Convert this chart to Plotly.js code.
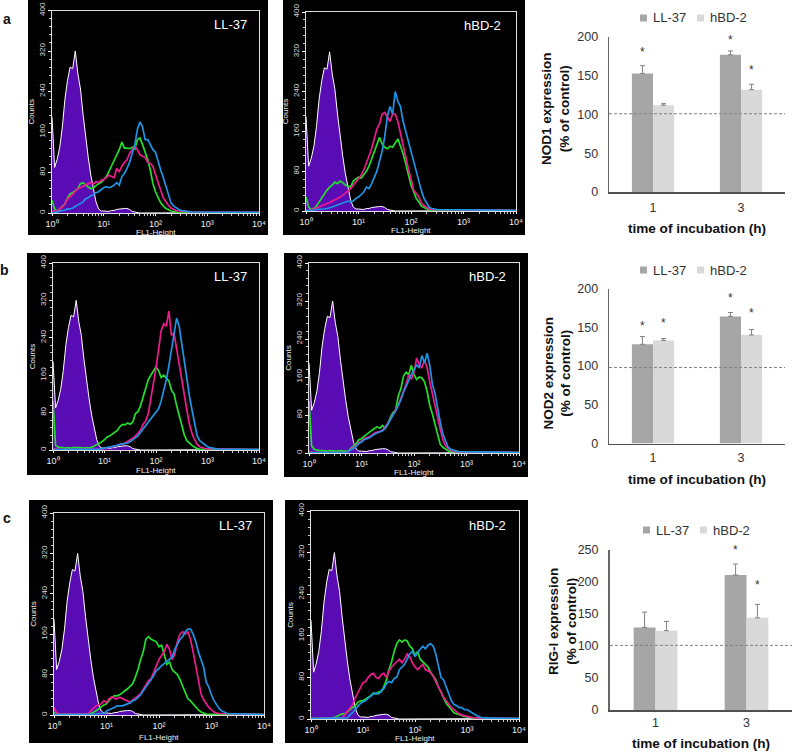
<!DOCTYPE html>
<html><head><meta charset="utf-8">
<script src="https://cdn.plot.ly/plotly-3.0.1.min.js"></script>
<style>html,body{margin:0;padding:0;background:#fff}#chart{width:792px;height:752px}</style>
</head><body><div id="chart"></div>
<script>
// log10(FL1-Height) channels shared by all histograms
const logFL1 = [0,.05,.1,.15,.2,.25,.3,.35,.4,.45,.5,.55,.6,.65,.7,.75,.8,.85,.9,.95,
 1,1.05,1.1,1.15,1.2,1.25,1.3,1.35,1.4,1.45,1.5,1.55,1.6,1.65,1.7,1.75,1.8,1.85,1.9,1.95,
 2,2.05,2.1,2.15,2.2,2.25,2.3,2.35,2.4,2.45,2.5,2.55,2.6,2.65,2.7,2.75,2.8,2.85,2.9,2.95,
 3,3.05,3.1,3.15,3.2,3.25,3.3];

const control = [190,90,106,130,170,225,262,288,285,320,275,245,195,150,110,75,45,22,8,4,
 4,3,3,5,5,7,8,8,9,9,7,3,2,1,0];

const a1Green = [25,8,3,8,12,18,30,38,40,45,48,58,60,55,52,48,50,55,58,60,
 65,72,82,92,103,115,125,140,128,128,127,130,126,145,148,135,122,105,85,58,
 42,30,20,14,9,7,4,3,2,1];
const a1Pink = [3,4,5,8,12,18,28,32,38,42,48,50,53,55,58,60,57,62,60,65,
 66,70,75,72,70,88,82,92,100,105,118,125,133,125,115,112,110,100,98,92,
 75,60,45,30,22,15,10,7,5,4,3,3,3,2,2];
const a1Blue = [0,1,2,3,4,6,8,8,10,13,15,18,22,28,30,34,36,40,42,46,
 50,52,50,52,55,60,55,72,78,88,100,118,135,165,180,170,145,145,135,125,
 120,100,85,70,52,35,20,14,10,7,5,4,3,3,2];

const a2Green = [28,8,3,5,10,18,25,35,42,48,52,58,55,60,57,52,50,48,60,65,
 68,66,72,80,90,105,120,135,148,135,128,125,130,128,138,145,130,115,95,75,
 52,40,25,18,10,7,4,2];
const a2Pink = [0,1,2,4,6,8,10,13,15,17,20,22,25,28,32,35,40,45,52,60,
 65,72,82,95,110,125,145,165,175,195,198,190,180,195,195,180,155,130,110,85,
 65,42,35,28,15,10,7,4,3];
const a2Blue = [1,1,1,2,3,3,3,4,5,6,8,10,12,14,15,18,20,18,20,25,
 28,33,38,48,45,55,68,80,100,120,150,190,210,195,240,220,210,180,160,140,
 115,95,75,58,40,25,15,7,5,4,3];

const b1Green = [105,10,6,5,5,4,5,4,5,5,6,5,4,5,4,6,8,12,14,18,
 22,28,30,34,38,42,50,55,54,58,55,60,78,82,95,115,135,150,160,168,
 178,170,155,160,155,148,128,120,95,75,55,32,20,14,10,6,3,2];
const b1Pink = [3,2,1,1,1,1,1,1,1,1,1,1,1,1,1,1,1,2,2,2,
 3,4,5,7,8,10,12,12,15,18,22,25,30,35,42,55,62,78,110,140,
 175,215,255,270,265,297,245,250,215,180,145,110,85,55,35,22,12,7,5,3];
const b1Blue = [1,1,1,1,1,1,1,1,1,1,1,1,1,1,1,1,1,2,2,3,
 4,5,6,7,9,10,12,13,14,15,18,22,25,30,38,45,52,58,65,72,
 80,88,105,125,150,180,215,250,282,265,225,185,150,115,85,55,30,20,15,10,
 7,5,4,3,2];

const b2Green = [110,15,8,6,5,5,4,4,5,4,4,4,5,4,4,4,10,15,20,28,
 30,35,40,45,48,52,55,52,58,52,60,75,85,90,120,135,162,170,165,185,
 165,155,160,158,150,130,100,82,60,35,18,12,8,5,3];
const b2Pink = [3,2,1,1,1,1,1,1,1,1,1,1,1,1,1,4,8,12,16,22,
 25,30,32,34,38,42,44,45,48,55,62,72,82,90,100,115,130,145,165,155,
 170,200,185,180,195,180,150,125,95,75,50,28,15,10,6,4,3];
const b2Blue = [1,1,1,1,1,1,1,1,1,1,1,1,1,1,1,3,6,10,14,20,
 23,28,30,32,36,40,42,44,47,52,60,70,80,88,100,112,128,140,155,165,
 175,185,180,205,190,210,185,145,125,90,65,40,25,12,8,6,4,3];

const c1Green = [5,3,2,2,2,2,2,2,2,2,2,2,2,2,3,5,8,12,16,20,
 22,28,35,38,38,40,45,48,52,58,62,75,90,110,125,150,155,150,148,145,
 135,138,120,100,105,90,85,80,70,58,45,32,28,22,15,10,6,4,2];
const c1Pink = [15,4,2,2,2,2,2,2,2,2,2,2,2,3,8,14,18,20,22,28,
 25,32,36,33,32,35,32,30,28,25,30,35,38,42,50,58,68,72,85,95,
 110,118,125,140,130,110,120,145,160,165,160,165,150,125,95,70,42,30,22,15,
 10,6,4,3];
const c1Blue = [1,1,1,1,1,1,1,1,1,1,1,1,1,2,2,2,2,3,3,3,
 8,10,12,15,18,18,18,20,22,24,28,30,35,40,48,55,62,70,78,88,
 92,98,102,105,110,115,130,140,150,155,165,170,170,160,145,125,110,95,65,55,
 40,28,20,12,8,5,3];

const c2Green = [1,1,1,1,1,2,2,2,2,3,5,8,10,10,15,18,22,25,32,35,
 35,38,42,45,50,48,52,52,62,75,95,110,130,145,152,148,152,150,140,135,
 122,130,115,110,105,100,90,82,75,62,52,40,30,24,18,12,10,8,6,5,
 4,3,2,1];
const c2Pink = [1,1,1,1,1,1,1,1,1,1,1,1,2,8,14,20,28,40,50,60,
 70,72,80,85,88,80,78,85,88,80,92,100,105,108,115,108,115,125,120,108,
 100,95,100,105,95,92,90,82,72,60,50,42,35,28,22,18,14,10,8,6,
 5,4,3,2];
const c2Blue = [1,1,1,1,1,1,1,1,1,1,1,1,1,2,2,8,12,18,25,30,
 33,35,40,45,48,50,48,55,58,68,72,70,78,80,95,100,105,115,125,130,
 120,128,135,140,135,142,145,140,125,100,80,75,62,45,35,28,26,22,22,18,
 18,15,12,8,6,4,2];

const xTickVals = [1,10,100,1000,10000];
const xTickText = ['10⁰','10¹','10²','10³','10⁴'];
const yTickVals = [0,80,160,240,320,400];
const seriesNames = ['LL-37','hBD-2'];
const hours = ['1','3'];
const nod1LL = [153,177], nod1LLerr = [10,5], nod1HBD = [112,132], nod1HBDerr = [2,7];
const nod2LL = [128,164], nod2LLerr = [10,5], nod2HBD = [133,140], nod2HBDerr = [2.5,7];
const rigLL = [129,211], rigLLerr = [24,17], rigHBD = [124,144], rigHBDerr = [14.5,21];

const W = 792, H = 752;
const C = {purple:'#5a0cb4', green:'#22e02a', pink:'#ee1a8e', blue:'#1e94e6',
           LL:'#a6a6a6', HBD:'#d9d9d9', axis:'#505050'};
const FONT = 'Arial, "Liberation Sans", sans-serif';

const traces = [], layout = {
  width:W, height:H, margin:{l:0,r:0,t:0,b:0}, paper_bgcolor:'#fff', plot_bgcolor:'rgba(0,0,0,0)',
  showlegend:false, barmode:'group', bargap:0.52, bargroupgap:0, font:{family:FONT},
  shapes:[], annotations:[]
};
function dom(a,b,T){ return [a/T,b/T]; }
function ydom(t,b){ return [1-b/H,1-t/H]; }

function flow(n, box, label, g, p, b){
  const sfx = n===1?'':n;
  const xa='x'+sfx, ya='y'+sfx;
  layout.shapes.push({type:'rect',xref:'paper',yref:'paper',layer:'below',
    x0:box.bg[0]/W,x1:box.bg[1]/W,y0:1-box.bg[3]/H,y1:1-box.bg[2]/H,fillcolor:'#000',line:{width:0}});
  layout['xaxis'+sfx]={type:'log',domain:dom(box.l,box.r,W),range:[0,4],anchor:ya,
    tickmode:'array',tickvals:xTickVals,ticktext:xTickText,ticks:'outside',ticklen:2,tickcolor:'#fff',
    tickfont:{color:'#eee',size:9,family:FONT},showgrid:false,zeroline:false,showline:true,linecolor:'#ddd',linewidth:1,mirror:true,
    minor:{ticks:'outside',ticklen:2,tickcolor:'#ccc',dtick:'D1',showgrid:false}};
  layout['yaxis'+sfx]={domain:ydom(box.t,box.b),range:[0,400],anchor:xa,
    tickmode:'array',tickvals:yTickVals,tickangle:-90,ticks:'outside',ticklen:3,tickcolor:'#fff',
    tickfont:{color:'#ddd',size:8,family:FONT},showgrid:false,zeroline:false,showline:true,linecolor:'#ddd',linewidth:1,mirror:true,
    minor:{ticks:'outside',ticklen:2,tickcolor:'#ccc',dtick:16,showgrid:false},
    title:{text:'Counts',font:{color:'#eee',size:8,family:FONT},standoff:1}};
  const mk=(arr,color,fill)=>{
    const t={type:'scatter',mode:'lines',xaxis:xa,yaxis:ya,hoverinfo:'skip',showlegend:false,
      x:logFL1.slice(0,arr.length).map(v=>Math.pow(10,v)).concat(10000),
      y:arr.concat(1),line:{color:color,width:fill?1:1.7}};
    if(fill){t.fill='tozeroy';t.fillcolor=C.purple;}
    traces.push(t);
  };
  mk(control,'#fff',true); mk(g,C.green); mk(p,C.pink); mk(b,C.blue);
  layout.annotations.push({xref:'paper',yref:'paper',xanchor:'center',yanchor:'middle',showarrow:false,
    x:box.lx/W,y:1-box.ly/H,text:label,font:{color:'#fff',size:13,family:FONT}});
  layout.annotations.push({xref:'paper',yref:'paper',xanchor:'center',yanchor:'middle',showarrow:false,
    x:(box.l+box.r)/2/W,y:1-box.fy/H,text:'FL1-Height',borderpad:0,font:{color:'#eee',size:8,family:FONT}});
}
function bars(n, box, yName, maxY, dtick, ll, lle, hb, hbe, ref, stars, leg){
  const xa='x'+n, ya='y'+n;
  layout['xaxis'+n]={domain:dom(box.l,box.r,W),range:[0.5,2.5],anchor:ya,tickmode:'array',tickvals:[1,2],ticktext:hours,
    ticks:'',showgrid:false,zeroline:false,showline:true,linecolor:C.axis,linewidth:1.5,ticklabelstandoff:box.ts,
    tickfont:{size:12.5,color:'#333',family:FONT},
    title:{text:'<b>time of incubation (h)</b>',font:{size:13.6,color:'#111',family:FONT},standoff:box.xs}};
  layout['yaxis'+n]={domain:ydom(box.t,box.b),range:[0,maxY],dtick:dtick,anchor:xa,ticks:'',showgrid:false,zeroline:false,
    showline:true,linecolor:'#666',linewidth:box.lw||1.3,ticklabelstandoff:7,tickfont:{size:12.5,color:'#333',family:FONT}};
  layout.annotations.push({xref:'paper',yref:'paper',x:box.tx/W,y:1-box.ty/H,textangle:-90,showarrow:false,
    xanchor:'center',yanchor:'middle',text:'<b>'+yName+'<br>(% of control)</b>',font:{size:13.5,color:'#111',family:FONT}});
  const err={color:'#808080',thickness:1,width:2.5};
  traces.push({type:'bar',name:seriesNames[0],xaxis:xa,yaxis:ya,x:[1,2],y:ll,marker:{color:C.LL},hoverinfo:'skip',
    error_y:Object.assign({type:'data',symmetric:false,array:lle,arrayminus:[0,0]},err)});
  traces.push({type:'bar',name:seriesNames[1],xaxis:xa,yaxis:ya,x:[1,2],y:hb,marker:{color:C.HBD},hoverinfo:'skip',
    error_y:Object.assign({type:'data',symmetric:false,array:hbe,arrayminus:[0,0]},err)});
  layout.shapes.push({type:'line',xref:xa+' domain',yref:ya,x0:0,x1:1,y0:ref,y1:ref,layer:'above',
    line:{color:'#808080',width:1,dash:'3px,2px'}});
  stars.forEach(s=>layout.annotations.push({xref:xa,yref:ya,x:s[0],y:s[1],text:'*',showarrow:false,
    font:{size:12,color:'#333',family:FONT},xanchor:'center',yanchor:'middle'}));
  leg.forEach((k,i)=>{
    const col=i===0?C.LL:C.HBD;
    layout.shapes.push({type:'rect',xref:'paper',yref:'paper',x0:k[0]/W,x1:(k[0]+7)/W,y0:1-(k[1]+3.5)/H,y1:1-(k[1]-3.5)/H,fillcolor:col,line:{width:0}});
    layout.annotations.push({xref:'paper',yref:'paper',x:(k[0]+11)/W,y:1-k[1]/H,text:seriesNames[i],showarrow:false,
      xanchor:'left',yanchor:'middle',font:{size:13,color:'#333',family:FONT}});
  });
}

flow(1,{bg:[28,268,0,235],l:52,r:259,t:10.5,b:213,lx:230,ly:25,fy:232},'LL-37',a1Green,a1Pink,a1Blue);
flow(2,{bg:[283,525,0,235],l:306,r:516,t:12,b:211,lx:482,ly:26,fy:230},'hBD-2',a2Green,a2Pink,a2Blue);
flow(3,{bg:[27,268,253,475],l:53,r:259,t:263,b:450,lx:230,ly:276,fy:470},'LL-37',b1Green,b1Pink,b1Blue);
flow(4,{bg:[284,528,253,477],l:309,r:519,t:263,b:453,lx:487,ly:276,fy:472},'hBD-2',b2Green,b2Pink,b2Blue);
flow(5,{bg:[29,273,500,743],l:54,r:264,t:513,b:715,lx:235,ly:525,fy:737},'LL-37',c1Green,c1Pink,c1Blue);
flow(6,{bg:[285,528,500,743],l:311,r:519,t:511,b:719,lx:487,ly:525,fy:738},'hBD-2',c2Green,c2Pink,c2Blue);

bars(7,{l:609,r:785,t:37,b:192,tx:556,ty:109,ts:3,xs:10},'NOD1 expression',200,50,nod1LL,nod1LLerr,nod1HBD,nod1HBDerr,101,
  [[0.88,180],[1.88,196],[2.12,157]],[[640,18],[697,18]]);
bars(8,{l:609,r:785,t:288.5,b:443.5,tx:556.5,ty:373,ts:2,xs:10},'NOD2 expression',200,50,nod2LL,nod2LLerr,nod2HBD,nod2HBDerr,98,
  [[0.88,151],[1.12,155],[1.88,188],[2.12,169]],[[640,270],[697,270]]);
bars(9,{l:610,r:792,t:550,b:710,lw:2,tx:562,ty:622,ts:0,xs:10},'RIG-I expression',250,50,rigLL,rigLLerr,rigHBD,rigHBDerr,101,
  [[1.88,250],[2.12,196]],[[643,530],[700,530]]);

[['a',7,19],['b',4,270],['c',7,518]].forEach(r=>layout.annotations.push({xref:'paper',yref:'paper',x:r[1]/W,y:1-r[2]/H,
  text:'<b>'+r[0]+'</b>',showarrow:false,xanchor:'center',yanchor:'middle',font:{size:14,color:'#111',family:FONT}}));

Plotly.newPlot('chart',traces,layout,{staticPlot:true,displayModeBar:false});
</script></body></html>
